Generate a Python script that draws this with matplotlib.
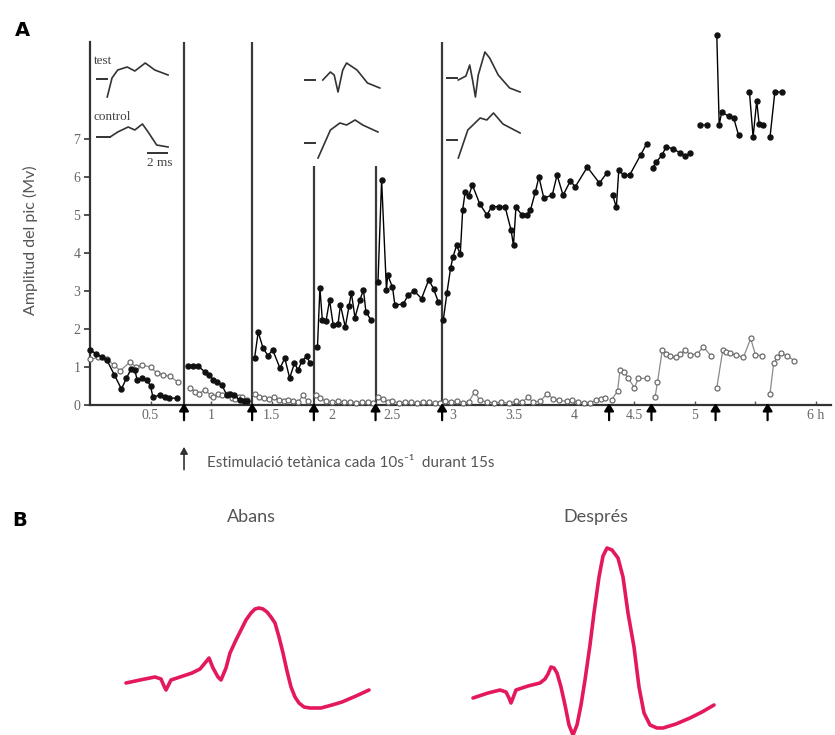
import numpy as np
import matplotlib
matplotlib.use('Agg')
import matplotlib.pyplot as plt

# ---------------- data ----------------
stim_t = [0.777, 1.34, 1.85, 2.36, 2.91, 4.29, 4.64, 5.17, 5.60]
stim_line_top = [9.55, 9.55, 6.3, 6.3, 9.55]   # vertical lines for first five stimuli

test_t = [0, 0.05, 0.1, 0.14, 0.2, 0.26, 0.3, 0.34, 0.37, 0.39, 0.43, 0.47, 0.5, 0.52, 0.58, 0.62, 0.65, 0.72,
          0.81, 0.85, 0.89, 0.95, 0.98, 1.02, 1.05, 1.09, 1.13, 1.16, 1.19, 1.24, 1.27, 1.3,
          1.36, 1.39, 1.43, 1.47, 1.51, 1.57, 1.61, 1.65, 1.69, 1.72, 1.75, 1.79, 1.82,
          1.88, 1.9, 1.92, 1.95, 1.98, 2.01, 2.05, 2.07, 2.11, 2.14, 2.16, 2.19, 2.23, 2.26, 2.28, 2.32,
          2.38, 2.41, 2.45, 2.46, 2.5, 2.52, 2.59, 2.63, 2.68, 2.74, 2.8, 2.84, 2.88,
          2.92, 2.95, 2.98, 3.0, 3.03, 3.06, 3.08, 3.1, 3.13, 3.16, 3.22, 3.28, 3.32, 3.38, 3.43, 3.48, 3.5,
          3.52, 3.57, 3.61, 3.64, 3.68, 3.71, 3.75, 3.82, 3.86, 3.91, 3.97, 4.01, 4.11, 4.21, 4.27,
          4.32, 4.35, 4.37, 4.41, 4.46, 4.55, 4.6,
          4.65, 4.68, 4.73, 4.76, 4.82, 4.88, 4.92, 4.96, 5.0, 5.04, 5.1,
          5.18, 5.2, 5.22, 5.28, 5.32, 5.36, 5.4, 5.45, 5.48, 5.51, 5.53, 5.56,
          5.62, 5.66, 5.72]
test_v = [1.45, 1.35, 1.25, 1.18, 0.8, 0.42, 0.7, 0.95, 0.92, 0.66, 0.7, 0.66, 0.5, 0.21, 0.26, 0.2, 0.18, 0.18,
          1.03, 1.03, 1.03, 0.87, 0.8, 0.66, 0.6, 0.53, 0.26, 0.3, 0.26, 0.13, 0.1, 0.1,
          1.23, 1.92, 1.5, 1.3, 1.45, 0.97, 1.23, 0.71, 1.1, 0.92, 1.15, 1.28, 1.1,
          1.53, 3.08, 2.24, 2.2, 2.76, 2.1, 2.14, 2.63, 2.05, 2.6, 2.95, 2.3, 2.76, 3.03, 2.46, 2.24,
          3.24, 5.92, 3.03, 3.42, 3.1, 2.63, 2.66, 2.9, 3.0, 2.8, 3.3, 3.05, 2.7,
          2.24, 2.95, 3.6, 3.9, 4.2, 3.97, 5.13, 5.6, 5.5, 5.79, 5.3, 5.0, 5.22, 5.22, 5.22, 4.6, 4.2,
          5.2, 5.0, 5.0, 5.13, 5.6, 6.0, 5.45, 5.52, 6.05, 5.52, 5.9, 5.74, 6.26, 5.84, 6.1,
          5.52, 5.2, 6.18, 6.05, 6.05, 6.58, 6.87,
          6.24, 6.4, 6.58, 6.8, 6.74, 6.63, 6.55, 6.63, np.nan, 7.37, 7.37,
          9.74, 7.37, 7.7, 7.6, 7.55, 7.1, np.nan, 8.24, 7.05, 8.0, 7.4, 7.37,
          7.05, 8.24, 8.24]

ctrl_t = [0, 0.07, 0.14, 0.2, 0.25, 0.33, 0.38, 0.43, 0.5, 0.55, 0.6, 0.66, 0.73,
          0.83, 0.87, 0.9, 0.95, 1.0, 1.02, 1.06, 1.09, 1.14, 1.17, 1.2, 1.23, 1.26, 1.3,
          1.36, 1.4, 1.44, 1.48, 1.52, 1.56, 1.6, 1.64, 1.68, 1.72, 1.76, 1.8,
          1.87, 1.9, 1.95, 2.0, 2.05, 2.1, 2.15, 2.2, 2.25, 2.3, 2.34,
          2.38, 2.42, 2.46, 2.5, 2.55, 2.6, 2.65, 2.7, 2.75, 2.8, 2.85, 2.89,
          2.93, 2.98, 3.03, 3.08, 3.13, 3.18, 3.22, 3.28, 3.34, 3.4, 3.46, 3.52, 3.57, 3.62, 3.66, 3.72,
          3.78, 3.83, 3.88, 3.94, 3.98, 4.03, 4.08, 4.13, 4.18, 4.22, 4.26,
          4.31, 4.36, 4.38, 4.41, 4.45, 4.5, 4.53, 4.6,
          4.67, 4.69, 4.73, 4.76, 4.79, 4.84, 4.88, 4.92, 4.96, 5.02, 5.07, 5.13,
          5.18, 5.23, 5.26, 5.29, 5.34, 5.4, 5.46, 5.5, 5.55,
          5.62, 5.65, 5.68, 5.71, 5.76, 5.82]
ctrl_v = [1.2, 1.25, 1.2, 1.05, 0.9, 1.13, 1.0, 1.05, 1.0, 0.85, 0.8, 0.75, 0.6,
          0.45, 0.35, 0.3, 0.4, 0.25, 0.2, 0.3, 0.25, 0.28, 0.18, 0.15, 0.22, 0.2, 0.12,
          0.28, 0.2, 0.18, 0.15, 0.2, 0.12, 0.1, 0.12, 0.1, 0.08, 0.25, 0.1,
          0.25, 0.18, 0.1, 0.08, 0.1, 0.07, 0.08, 0.06, 0.08, 0.07, 0.06,
          0.22, 0.15, 0.08, 0.1, 0.06, 0.08, 0.07, 0.06, 0.08, 0.07, 0.05, 0.06,
          0.1, 0.08, 0.1, 0.06, 0.08, 0.35, 0.12, 0.08, 0.06, 0.07, 0.05, 0.1, 0.08, 0.2, 0.08, 0.1,
          0.3, 0.15, 0.12, 0.1, 0.12, 0.08, 0.05, 0.06, 0.12, 0.15, 0.18,
          0.13, 0.37, 0.92, 0.88, 0.7, 0.45, 0.7, 0.7,
          0.21, 0.6, 1.45, 1.35, 1.3, 1.25, 1.35, 1.45, 1.32, 1.35, 1.53, 1.3,
          0.45, 1.45, 1.4, 1.36, 1.32, 1.25, 1.75, 1.32, 1.3,
          0.3, 1.1, 1.25, 1.36, 1.3, 1.17]

x_ticks = [0.5, 1, 1.5, 2, 2.5, 3, 3.5, 4, 4.5, 5, 5.5, 6]
x_ticklabels = ['0.5', '1', '1.5', '2', '2.5', '3', '3.5', '4', '4.5', '5', '', '6 h']
y_ticks = [0, 1, 2, 3, 4, 5, 6, 7]

# inset sample traces (ms, arbitrary units)
g1_test_t = [1.5, 2.0, 2.6, 3.6, 4.4, 5.5, 6.5, 7.9]
g1_test_v = [7.3, 9.2, 10.0, 10.3, 9.9, 10.7, 10.0, 9.5]
g1_ctrl_t = [1.8, 2.6, 3.7, 4.4, 5.2, 5.8, 6.7, 7.9]
g1_ctrl_v = [3.3, 3.8, 4.3, 4.0, 4.6, 3.8, 2.5, 2.3]
g2_test_t = [2.4, 3.2, 3.6, 4.0, 4.5, 4.9, 6.0, 7.1, 8.4]
g2_test_v = [9.0, 9.8, 9.5, 7.8, 10.0, 10.7, 10.0, 8.7, 8.2]
g2_ctrl_t = [1.9, 3.2, 4.2, 4.9, 5.8, 6.6, 8.2]
g2_ctrl_v = [1.2, 4.0, 4.7, 4.5, 5.0, 4.5, 3.8]
g3_test_t = [1.4, 2.2, 2.6, 2.9, 3.2, 3.5, 4.2, 4.7, 5.6, 6.8, 7.9]
g3_test_v = [9.0, 9.4, 10.5, 9.0, 7.3, 9.5, 11.8, 11.2, 9.5, 8.2, 7.8]
g3_ctrl_t = [1.4, 2.4, 3.7, 4.4, 5.1, 6.1, 7.9]
g3_ctrl_v = [1.2, 4.0, 5.2, 5.0, 5.7, 4.6, 3.7]
g1_base = [(0.4, 1.5, 9.1), (0.4, 1.8, 3.3)]
g2_base = [(0.5, 1.6, 9.0), (0.5, 1.6, 2.7)]
g3_base = [(0.2, 1.3, 9.2), (0.2, 1.3, 3.0)]

# panel B waveforms
abans_t = [1.6, 3.0, 4.5, 5.1, 5.4, 5.6, 5.8, 6.1, 7.0, 8.2, 9.0, 9.5, 9.9, 10.3, 10.8, 11.1, 11.6, 12.0,
           12.6, 13.1, 13.6, 14.1, 14.5, 14.9, 15.3, 15.7, 16.1, 16.5, 16.9, 17.3, 17.7, 18.1, 18.5, 18.9,
           19.4, 20.0, 21.1, 22.2, 23.2, 24.6, 25.9]
abans_v = [5.2, 5.5, 5.8, 5.6, 4.9, 4.5, 4.9, 5.5, 5.8, 6.2, 6.6, 7.2, 7.7, 6.7, 5.8, 5.5, 6.7, 8.2,
           9.5, 10.5, 11.5, 12.2, 12.6, 12.7, 12.6, 12.3, 11.8, 11.2, 9.8, 8.2, 6.4, 4.8, 3.8, 3.2,
           2.8, 2.7, 2.7, 3.0, 3.3, 3.9, 4.5]
despres_t = [1.8, 3.3, 4.5, 5.1, 5.4, 5.6, 5.8, 6.1, 7.3, 8.5, 9.0, 9.3, 9.6, 9.9, 10.2, 10.6, 11.0, 11.4,
             11.8, 12.2, 12.6, 13.0, 13.5, 13.9, 14.4, 14.8, 15.2, 15.7, 16.3, 16.8, 17.3, 17.9, 18.4,
             18.9, 19.5, 20.2, 20.8, 22.1, 23.5, 24.7, 25.9]
despres_v = [3.7, 4.2, 4.5, 4.3, 3.7, 3.2, 3.7, 4.5, 4.9, 5.2, 5.6, 6.1, 6.8, 6.7, 6.2, 4.8, 3.0, 1.0,
             0.0, 1.0, 3.0, 5.5, 9.0, 12.2, 15.8, 17.9, 18.7, 18.5, 17.7, 15.8, 12.2, 8.8, 4.8,
             2.2, 1.0, 0.7, 0.7, 1.1, 1.7, 2.3, 3.0]

# ---------------- figure ----------------
W, H = 835, 735
fig = plt.figure(figsize=(W / 100, H / 100), dpi=100)


def px_axes(x0, y0, x1, y1):
    return fig.add_axes([x0 / W, 1 - y1 / H, (x1 - x0) / W, (y1 - y0) / H])


XMAX, YMAX = 6.12, 9.8
ax = px_axes(90, 405 - YMAX * 38, 90 + XMAX * 121, 405)
ax.set_xlim(0, XMAX)
ax.set_ylim(0, YMAX)
for s in ['top', 'right']:
    ax.spines[s].set_visible(False)
for s in ['left', 'bottom']:
    ax.spines[s].set_linewidth(1.6)
    ax.spines[s].set_color('#333333')
ax.spines['left'].set_bounds(0, 9.55)

ax.set_yticks(y_ticks)
ax.set_yticklabels([str(v) for v in y_ticks], family='Liberation Serif', fontsize=10, color='#666666')
ax.set_xticks(x_ticks)
ax.set_xticklabels(x_ticklabels, family='Liberation Serif', fontsize=10, color='#666666')
ax.tick_params(axis='y', direction='out', length=4, width=1.2, color='#333333', pad=3)
ax.tick_params(axis='x', direction='in', length=3, width=1.0, color='#555555', pad=3)

ax.set_ylabel('Amplitud del pic (Mv)', family='Lato', fontsize=11.5, color='#555555')
ax.yaxis.set_label_coords(-52 / (XMAX * 121), 0.443)


def split_at(t, v, cuts):
    t = np.asarray(t, float)
    v = np.asarray(v, float)
    idx = np.searchsorted(t, cuts)
    return np.insert(t, idx, np.nan), np.insert(v, idx, np.nan)


ct, cv = split_at(ctrl_t, ctrl_v, stim_t)
ax.plot(ct, cv, '-o', color='#8a8a8a', lw=0.9, ms=3.6, mfc='white', mec='#6a6a6a', mew=0.9,
        clip_on=False, zorder=3)
tt, tv = split_at(test_t, test_v, stim_t)
ax.plot(tt, tv, '-o', color='black', lw=1.0, ms=3.6, mfc='#111111', mec='#111111', clip_on=False, zorder=4)

ax.vlines(stim_t[:len(stim_line_top)], 0, stim_line_top, color='#3a3a3a', lw=1.6, zorder=2)

for t in stim_t:
    ax.annotate('', xy=(t, 0.05), xytext=(t, -0.4), xycoords='data', annotation_clip=False,
                arrowprops=dict(arrowstyle='-|>,head_width=0.28,head_length=0.45', color='black', lw=1.6,
                                shrinkA=0, shrinkB=0))

# caption arrow + text
fig.text(207 / W, 1 - 463 / H, 'Estimulació tetànica cada 10s⁻¹  durant 15s', family=['Lato', 'DejaVu Sans'],
         fontsize=11, color='#555555', va='center', ha='left')
ax.annotate('', xy=(stim_t[0], -1.1), xytext=(stim_t[0], -1.7), xycoords='data', annotation_clip=False,
            arrowprops=dict(arrowstyle='-|>,head_width=0.22,head_length=0.4', color='#333333', lw=1.2,
                            shrinkA=0, shrinkB=0))

fig.text(15 / W, 1 - 30 / H, 'A', family='DejaVu Sans', fontsize=14, fontweight='bold', va='center', ha='left')
fig.text(12 / W, 1 - 520 / H, 'B', family='DejaVu Sans', fontsize=14, fontweight='bold', va='center', ha='left')

# insets
groups = [(93, g1_test_t, g1_test_v, g1_ctrl_t, g1_ctrl_v, g1_base),
          (300, g2_test_t, g2_test_v, g2_ctrl_t, g2_ctrl_v, g2_base),
          (445, g3_test_t, g3_test_v, g3_ctrl_t, g3_ctrl_v, g3_base)]
for i, (x0, ta, va, tb, vb, base) in enumerate(groups):
    ia = px_axes(x0, 42, x0 + 84, 170)
    ia.set_xlim(0, 8.84)
    ia.set_ylim(0, 12.8)
    ia.axis('off')
    ia.patch.set_alpha(0)
    ia.plot(ta, va, color='#333333', lw=1.2, solid_joinstyle='round')
    ia.plot(tb, vb, color='#333333', lw=1.2, solid_joinstyle='round')
    for a, b, lev in base:
        ia.plot([a, b], [lev, lev], color='#333333', lw=1.4)
    if i == 0:
        ia.text(0.1, 10.9, 'test', family='Liberation Serif', fontsize=9.5, color='#444444', va='center')
        ia.text(0.0, 5.3, 'control', family='Liberation Serif', fontsize=9.5, color='#444444', va='center')
        ia.plot([5.8, 7.8], [1.7, 1.7], color='#333333', lw=1.4)
        ia.text(7.0, 0.7, '2 ms', family='Liberation Serif', fontsize=9.5, color='#444444', va='center',
                ha='center')

# panel B
pink = '#E3195C'
for (x0, tr_t, tr_v) in [(110, abans_t, abans_v), (455, despres_t, despres_v)]:
    bx = px_axes(x0, 530, x0 + 280, 735)
    bx.set_xlim(0, 28)
    bx.set_ylim(0, 20.5)
    bx.axis('off')
    bx.plot(tr_t, tr_v, color=pink, lw=2.6, solid_joinstyle='round', solid_capstyle='round')

fig.text(251 / W, 1 - 517 / H, 'Abans', family='Lato', fontsize=13, color='#555555', ha='center', va='center')
fig.text(596 / W, 1 - 517 / H, 'Després', family='Lato', fontsize=13, color='#555555', ha='center', va='center')

fig.savefig('out.png', dpi=100)
